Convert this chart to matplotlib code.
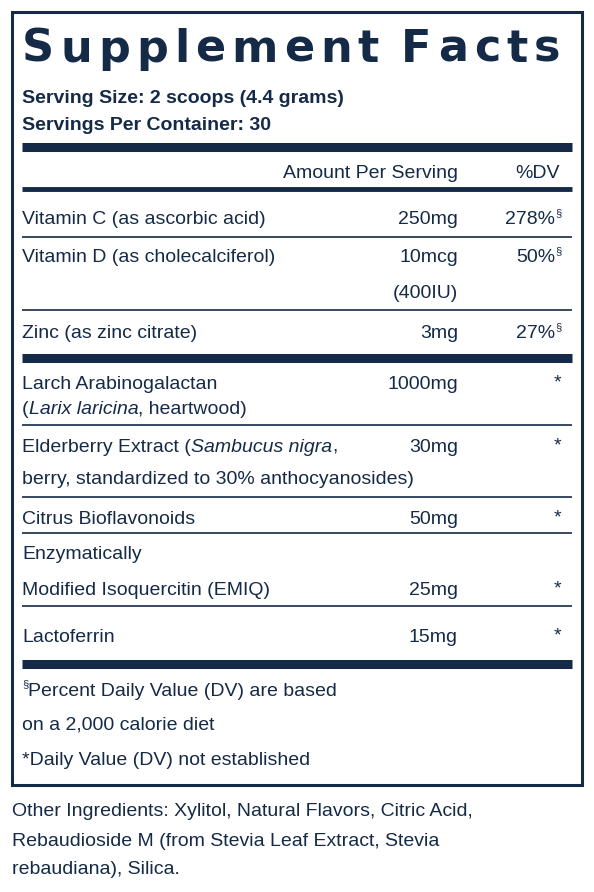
import matplotlib.pyplot as plt
from matplotlib.patches import Rectangle

NAVY = "#152a47"
FONT = ["Liberation Sans", "DejaVu Sans"]

TITLE = "Supplement Facts"
SERVING = ["Serving Size: 2 scoops (4.4 grams)", "Servings Per Container: 30"]

# rows: (list of (text, italic) runs per line, amount lines, dv, superscript, baseline, dv line)
ROWS = [
    ([[("Vitamin C (as ascorbic acid)", False)]], ["250mg"], "278%", "§", 224, 0),
    ([[("Vitamin D (as cholecalciferol)", False)]], ["10mcg", "(400IU)"], "50%", "§", 262, 0),
    ([[("Zinc (as zinc citrate)", False)]], ["3mg"], "27%", "§", 338, 0),
    ([[("Larch Arabinogalactan", False)],
      [("(", False), ("Larix laricina", True), (", heartwood)", False)]], ["1000mg"], "*", "", 389, 0),
    ([[("Elderberry Extract (", False), ("Sambucus nigra", True), (",", False)],
      [("berry, standardized to 30% anthocyanosides)", False)]], ["30mg"], "*", "", 452, 0),
    ([[("Citrus Bioflavonoids", False)]], ["50mg"], "*", "", 524, 0),
    ([[("Enzymatically", False)], [("Modified Isoquercitin (EMIQ)", False)]], ["", "25mg"], "*", "", 559, 1),
    ([[("Lactoferrin", False)]], ["15mg"], "*", "", 642, 0),
]
LINE_GAP = [25, 32, 0, 25, 32, 0, 36, 0]
AMT_GAP = 36

THIN_LINES = [237, 310, 425, 497, 533, 606]
THICK_BARS = [147, 358, 664]
MED_LINE = 189

FOOTNOTES = ["Percent Daily Value (DV) are based", "on a 2,000 calorie diet",
             "*Daily Value (DV) not established"]
OTHER = ["Other Ingredients: Xylitol, Natural Flavors, Citric Acid,",
         "Rebaudioside M (from Stevia Leaf Extract, Stevia",
         "rebaudiana), Silica."]

fig = plt.figure(figsize=(5.94, 8.92), dpi=100)
ax = fig.add_axes([0, 0, 1, 1])
ax.set_xlim(0, 594)
ax.set_ylim(892, 0)
ax.axis("off")
r = fig.canvas.get_renderer()
FS = 14


def width(t):
    return t.get_window_extent(r).width


def runs(x, y, parts):
    for s, it in parts:
        t = ax.text(x, y, s, fontsize=FS, family=FONT, color=NAVY, va="baseline",
                    style="italic" if it else "normal")
        x += width(t)


ax.add_patch(Rectangle((12, 12), 570, 773, fill=False, ec=NAVY, lw=2.2))

# title with tracking to fill the width
chars = [ax.text(0, 62, c, fontsize=32, family="DejaVu Sans", weight="bold",
                 color=NAVY, va="baseline") for c in TITLE]
ws = [width(c) if c.get_text() != " " else 10 for c in chars]
extra = (560 - 22 - sum(ws)) / (len(chars) - 1)
x = 22
for c, w in zip(chars, ws):
    c.set_x(x)
    x += w + extra

for s, y in zip(SERVING, [103, 130]):
    ax.text(22, y, s, fontsize=FS, family=FONT, weight="bold", color=NAVY, va="baseline")

for y in THICK_BARS:
    ax.plot([22, 572], [y, y], color=NAVY, lw=6.5, solid_capstyle="butt")
ax.plot([22, 572], [MED_LINE, MED_LINE], color=NAVY, lw=3.5, solid_capstyle="butt")
for y in THIN_LINES:
    ax.plot([22, 572], [y, y], color=NAVY, lw=1.2, solid_capstyle="butt")

ax.text(458, 178, "Amount Per Serving", fontsize=FS, family=FONT, color=NAVY,
        ha="right", va="baseline")
ax.text(560, 178, "%DV", fontsize=FS, family=FONT, color=NAVY, ha="right", va="baseline")

for (lines, amts, dv, sup, y, dvl), gap in zip(ROWS, LINE_GAP):
    for i, parts in enumerate(lines):
        runs(22, y + i * gap, parts)
    for i, a in enumerate(amts):
        ax.text(458, y + i * AMT_GAP, a, fontsize=FS, family=FONT, color=NAVY,
                ha="right", va="baseline")
    yd = y + dvl * gap
    if sup:
        ax.text(562, yd - 8, sup, fontsize=8, family=FONT, color=NAVY, ha="right", va="baseline")
        ax.text(555, yd, dv, fontsize=FS, family=FONT, color=NAVY, ha="right", va="baseline")
    else:
        ax.text(561, yd - 2, dv, fontsize=FS, family=FONT, color=NAVY, ha="right", va="baseline")

ax.text(22, 687, "§", fontsize=8, family=FONT, color=NAVY, va="baseline")
ax.text(28, 696, FOOTNOTES[0], fontsize=FS, family=FONT, color=NAVY, va="baseline")
ax.text(22, 729, FOOTNOTES[1], fontsize=FS, family=FONT, color=NAVY, va="baseline")
ax.text(22, 765, FOOTNOTES[2], fontsize=FS, family=FONT, color=NAVY, va="baseline")

for s, y in zip(OTHER, [816, 846, 874]):
    ax.text(12, y, s, fontsize=FS, family=FONT, color=NAVY, va="baseline")

fig.savefig("out.png", dpi=100)
